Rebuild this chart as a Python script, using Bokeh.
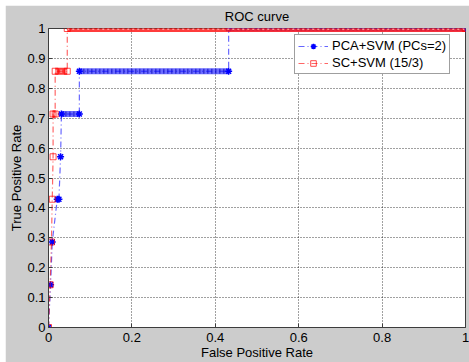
from bokeh.plotting import figure
from bokeh.layouts import column, row
from bokeh.models import Range1d, FixedTicker, Legend, LegendItem, Spacer
from bokeh.embed import file_html
from bokeh.resources import INLINE

# ROC data
fpr_pca = [0.0, 0.005, 0.009, 0.021, 0.025, 0.029, 0.031, 0.074, 0.074, 0.432, 0.432, 1.0]
tpr_pca = [0.0, 0.143, 0.286, 0.429, 0.429, 0.571, 0.714, 0.714, 0.857, 0.857, 1.0, 1.0]
fpr_sc = [0.0, 0.004, 0.007, 0.009, 0.011, 0.011, 0.016, 0.016, 0.045, 0.045, 1.0]
tpr_sc = [0.0, 0.143, 0.286, 0.429, 0.571, 0.714, 0.714, 0.857, 0.857, 1.0, 1.0]
label_pca = "PCA+SVM (PCs=2)"
label_sc = "SC+SVM (15/3)"
x_ticks = [0, 0.2, 0.4, 0.6, 0.8, 1]
y_ticks = [0, 0.1, 0.2, 0.3, 0.4, 0.5, 0.6, 0.7, 0.8, 0.9, 1]
title_text = "ROC curve"
x_label = "False Positive Rate"
y_label = "True Positive Rate"

FONT = "Liberation Sans"

p = figure(width=464, height=357, x_range=Range1d(0, 1), y_range=Range1d(0, 1),
           output_backend="svg", toolbar_location=None,
           background_fill_color="white", border_fill_color="#cccccc",
           min_border_left=43, min_border_right=4, min_border_top=22, min_border_bottom=33)
p.outline_line_color = "#3c3c3c"
p.outline_line_width = 1

p.title.text = title_text
p.title.align = "center"
p.title.vertical_align = "top"
p.title.text_font = FONT
p.title.text_font_size = "13px"
p.title.text_font_style = "normal"
p.title.text_color = "black"
p.title.offset = 0
p.title.standoff = 6

p.xaxis.ticker = FixedTicker(ticks=x_ticks)
p.yaxis.ticker = FixedTicker(ticks=y_ticks)
p.xaxis.major_label_overrides = {0: "0", 1: "1"}
p.yaxis.major_label_overrides = {0: "0", 1: "1"}
for ax, lab in ((p.xaxis, x_label), (p.yaxis, y_label)):
    ax.axis_label = lab
    ax.axis_label_text_font = FONT
    ax.axis_label_text_font_size = "13px"
    ax.axis_label_text_font_style = "normal"
    ax.axis_label_text_color = "black"
    ax.axis_label_standoff = 0
    ax.major_label_text_font = FONT
    ax.major_label_text_font_size = "13px"
    ax.major_label_text_color = "black"
    ax.major_tick_in = 4
    ax.major_tick_out = 0
    ax.minor_tick_in = 0
    ax.minor_tick_out = 0
    ax.axis_line_color = "#3c3c3c"
    ax.major_tick_line_color = "#3c3c3c"
p.xaxis.major_label_standoff = 5
p.yaxis.major_label_standoff = 3

p.xgrid.ticker = FixedTicker(ticks=x_ticks)
p.ygrid.ticker = FixedTicker(ticks=y_ticks)
for g in (p.xgrid, p.ygrid):
    g.grid_line_color = "black"
    g.grid_line_alpha = 0.75
    g.grid_line_dash = "1 2"
    g.grid_line_width = 1


def flat_segments(xs, ys):
    x0, y0, x1, y1 = [], [], [], []
    for i in range(len(xs) - 1):
        if ys[i] == ys[i + 1]:
            x0.append(xs[i]); y0.append(ys[i]); x1.append(xs[i + 1]); y1.append(ys[i + 1])
    return x0, y0, x1, y1


# PCA+SVM (blue)
bx0, by0, bx1, by1 = flat_segments(fpr_pca, tpr_pca)
p.segment(bx0, by0, bx1, by1, line_color="#3a3aff", line_width=6, line_alpha=0.75)
p.segment(bx0, by0, bx1, by1, line_color="#0000b0", line_width=5, line_dash="1 3", line_alpha=0.8)
l_pca = p.line(fpr_pca, tpr_pca, line_color="#0000ff", line_width=1.2, line_dash="6 3 1 3", line_alpha=0.6)
s_pca = p.scatter(fpr_pca, tpr_pca, marker="asterisk", size=7, line_color="#0000ff", line_width=1.5)

# SC+SVM (red)
rx0, ry0, rx1, ry1 = flat_segments(fpr_sc, tpr_sc)
p.segment(rx0, ry0, rx1, ry1, line_color="#ff1a1a", line_width=7, line_alpha=0.85)
p.segment(rx0, ry0, rx1, ry1, line_color="#ffa0a0", line_width=3, line_dash="2 3", line_alpha=0.9)
l_sc = p.line(fpr_sc, tpr_sc, line_color="#ff0000", line_width=1.2, line_dash="6 3 1 3", line_alpha=0.6)
s_sc = p.scatter(fpr_sc, tpr_sc, marker="square", size=6, line_color="#ff0000", line_width=1,
                 fill_color=None, line_alpha=0.7)

legend = Legend(items=[LegendItem(label=label_pca, renderers=[l_pca, s_pca]),
                       LegendItem(label=label_sc, renderers=[l_sc, s_sc])],
                location=(246, 253))
legend.label_text_font = FONT
legend.label_text_font_size = "13px"
legend.label_text_color = "black"
legend.glyph_width = 30
legend.glyph_height = 14
legend.label_height = 14
legend.spacing = 2
legend.padding = 3
legend.margin = 0
legend.label_standoff = 4
legend.border_line_color = "#404040"
legend.border_line_width = 1
legend.background_fill_color = "white"
legend.background_fill_alpha = 1
p.add_layout(legend, "center")

page = column(Spacer(height=5), row(Spacer(width=5), p, spacing=0), spacing=0)
open("out.html", "w").write(file_html(page, INLINE))
